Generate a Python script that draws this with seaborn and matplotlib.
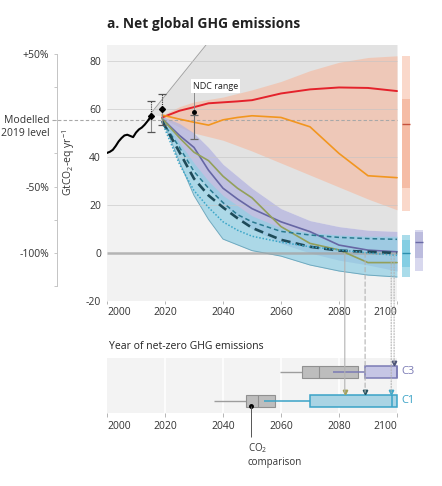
import matplotlib.pyplot as plt
import matplotlib.transforms as mtransforms
from matplotlib.patches import ConnectionPatch
import seaborn as sns

sns.set_theme(style="white")
plt.rcParams["font.family"] = ["Open Sans", "DejaVu Sans"]
plt.rcParams["mathtext.fontset"] = "custom"
plt.rcParams["mathtext.rm"] = "Open Sans"
plt.rcParams["mathtext.it"] = "Open Sans:italic"
plt.rcParams["mathtext.bf"] = "Open Sans:bold"
plt.rcParams["axes.unicode_minus"] = False

# historical net GHG emissions (GtCO2-eq/yr)
hist_years = list(range(2000, 2016))
hist_ghg = [41.7, 42.2, 43.0, 44.6, 46.5, 47.9, 49.0, 49.3, 48.8, 48.3,
            50.2, 51.5, 52.3, 53.5, 55.0, 56.7]

modelled_2019 = 55.4

# points with ranges
obs_years = [2015, 2019]
obs_mid = [57.1, 59.9]
obs_hi = [63.3, 66.1]
obs_lo = [50.4, 53.3]

ndc_year = 2030
ndc_mid = 58.6
ndc_hi = 57.5
ndc_lo = 47.4

# illustrative pathways
path_years = [2019, 2025, 2030, 2035, 2040, 2045, 2050, 2060, 2070, 2080, 2090, 2100]
policies = [56.5, 59.3, 60.8, 62.4, 62.8, 63.2, 63.7, 66.5, 68.2, 69.0, 68.8, 67.5]
mod_action = [57.5, 55.8, 54.5, 53.3, 55.5, 56.5, 57.2, 56.5, 52.6, 41.5, 32.2, 31.4]
c3_median = [56, 49, 44, 34.5, 27, 22.5, 18.5, 13, 8.9, 3.3, 1.2, 0.5]
gradual = [56, 48, 42, 38.5, 32, 27, 23, 11, 4, 1.3, -4, -4]
neg = [55, 42, 31, 24, 19, 14.5, 10.5, 5.5, 2.6, 1, 0.5, 0]
low_demand = [55, 44, 34, 27, 21, 16, 13, 9, 7.5, 6.5, 6, 5.7]
renew = [54.5, 37, 26, 19, 13, 9.5, 7, 4.5, 2.6, 1.3, 0, -1]

# ranges
band_years = [2019, 2020, 2025, 2030, 2035, 2040, 2050, 2060, 2070, 2080, 2090, 2100]
ndc_band_hi = [57.5, 58, 61, 63, 64, 65, 68, 71.5, 76, 79.5, 81.5, 82.2]
ndc_band_lo = [56, 55.5, 52.5, 50, 48.5, 47, 42.5, 37.5, 32.5, 27.5, 22.5, 18]
c3_hi = [57, 56.5, 54, 50, 44, 37, 27, 18.5, 13.5, 11, 9.5, 9]
c3_lo = [55, 54, 44, 35, 27, 20, 10, 4, 0, -3, -5, -7.5]
c1_hi = [56.5, 56, 46, 37.5, 30, 24, 15.5, 10.5, 8.5, 7.5, 7, 7]
c1_lo = [55, 53, 38, 24, 14, 5.8, 1, -1.3, -5, -7.5, -9.2, -10]

grey_years = [2015] + band_years
grey_hi = [58, 64, 65.5, 73, 80.5, 88, 95.5, 110, 125, 140, 155, 170, 185]
grey_lo = [58] + c3_hi

# 2100 range bars: ndc, c1, c3
bar_x = [2103.2, 2103.2, 2107.6]
bar_lo = [17.6, -10, -7.5]
bar_hi = [82.2, 7.5, 9.5]
bar_in_lo = [27, -6, -2.2]
bar_in_hi = [64.4, 5.4, 8.9]
bar_med = [53.6, 0, 4.7]
bar_out_col = ["#fad8ca", "#aadcea", "#d8d8ee"]
bar_in_col = ["#f5bca5", "#84cee3", "#bcbcde"]
bar_med_col = ["#c5513c", "#2b8fae", "#6a6aa6"]

# net-zero years (lower panel): rows 0 = C1, 1 = C3
rows = [0, 1]
row_names = ["C1", "C3"]
row_cols = ["#3ba3c7", "#7b7bb5"]
row_fill = ["#aad4e4", "#c6c6e5"]
co2_wlo = [2036.8, 2059.7]
co2_q1 = [2047.8, 2067.3]
co2_med = [2052.2, 2073.1]
co2_q3 = [2058.0, 2086.4]
ghg_wlo = [2054.1, 2078.0]
ghg_q1 = [2070.0, 2088.8]
ghg_med = [2098.2, 2100.0]
ghg_q3 = [2100.0, 2100.0]
co2_comparison = 2049.7

nz_years = [2082, 2089, 2098, 2099]
nz_rows = [0, 0, 0, 1]
nz_styles = ["-", (0, (4, 2.5)), (0, (1, 1.5)), (0, (1, 1.5))]
nz_cols = ["#a4a35a", "#24525f", "#3fa8c9", "#4d5577"]

fig = plt.figure(figsize=(4.42, 4.86), dpi=100)
ax = fig.add_axes([0.2421, 0.3807, 0.7217, 0.5267])
ax2 = fig.add_axes([0.2421, 0.1502, 0.7217, 0.1132])

# ---- main panel ----
ax.set_facecolor("none")
ax.axvspan(2000, 2100, color="#f2f2f2", zorder=0, lw=0)
ax.fill_between(grey_years, grey_lo, grey_hi, color="#e2e2e2", lw=0, zorder=1.1)
ax.plot(grey_years, grey_hi, color="#a3a3a3", lw=0.7, zorder=1.2)
ax.fill_between(band_years, ndc_band_lo, ndc_band_hi, color="#f5bba2", alpha=0.65, lw=0, zorder=1.3)
ax.fill_between(band_years, c3_lo, c3_hi, color="#b4b4dc", alpha=0.8, lw=0, zorder=1.4)
ax.fill_between(band_years, c1_lo, c1_hi, color="#92cfe3", alpha=0.72, lw=0, zorder=1.5)
ax.plot(band_years, c1_lo, color="#6fa9bf", lw=0.7, zorder=1.6)

ax.hlines([20, 40, 60, 80], 2000, 2100, color="#c4c4c4", lw=0.6, alpha=0.7, zorder=2)
ax.hlines(0, 2000, 2100, color="#a5a5a5", lw=1.8, alpha=0.8, zorder=2)
ax.axhline(modelled_2019, xmin=-0.172, xmax=100 / 110, color="#a8a8a8", lw=0.8,
           ls=(0, (3, 2)), clip_on=False, zorder=2.5)

sns.lineplot(x=hist_years, y=hist_ghg, ax=ax, color="black", lw=1.5, zorder=4)
sns.lineplot(x=path_years, y=policies, ax=ax, color="#e4222b", lw=1.4, zorder=4)
sns.lineplot(x=path_years, y=mod_action, ax=ax, color="#f2961f", lw=1.2, zorder=4)
sns.lineplot(x=path_years, y=c3_median, ax=ax, color="#6666a4", lw=1.2, zorder=4)
sns.lineplot(x=path_years, y=gradual, ax=ax, color="#93a05a", lw=1.2, zorder=4)
sns.lineplot(x=path_years, y=low_demand, ax=ax, color="#2a7a90", lw=1.1,
             linestyle=(0, (3, 2)), zorder=4)
sns.lineplot(x=path_years, y=neg, ax=ax, color="#1e4a58", lw=1.9,
             linestyle=(0, (3.5, 2)), zorder=4)
sns.lineplot(x=path_years, y=renew, ax=ax, color="#3aa6c8", lw=1.1,
             linestyle=(0, (1, 1.2)), zorder=4)

for x, m, hi, lo in zip(obs_years, obs_mid, obs_hi, obs_lo):
    ax.vlines(x, m, hi, colors="#333333", lw=0.8, linestyles=(0, (1, 1)), zorder=5)
    ax.vlines(x, lo, m, colors="#8a8a8a", lw=0.8, zorder=5)
    ax.plot([x, x], [lo, hi], ls="none", marker="_", ms=6, mew=0.9, color="#555555", zorder=5)
    ax.plot(x, m, marker="D", ms=3, color="black", zorder=6)

ax.vlines(ndc_year, ndc_mid, 67, colors="#8a8a8a", lw=0.7, zorder=5)
ax.vlines(ndc_year, ndc_lo, ndc_hi, colors="#6a6a6a", lw=0.8, zorder=5)
ax.plot([ndc_year, ndc_year], [ndc_lo, ndc_hi], ls="none", marker="_", ms=6, mew=0.9,
        color="#6a6a6a", zorder=5)
ax.plot(ndc_year, ndc_mid, marker="o", ms=2.5, color="black", zorder=6)
ax.text(2029.6, 69.6, "NDC range", fontsize=6.5, ha="left", va="center", color="#222222",
        bbox=dict(facecolor="white", edgecolor="none", pad=1.5), zorder=6)

for i in range(3):
    ax.bar(bar_x[i], bar_hi[i] - bar_lo[i], bottom=bar_lo[i], width=2.65,
           color=bar_out_col[i], lw=0, clip_on=False, zorder=3)
    ax.bar(bar_x[i], bar_in_hi[i] - bar_in_lo[i], bottom=bar_in_lo[i], width=2.65,
           color=bar_in_col[i], lw=0, clip_on=False, zorder=3.1)
    ax.hlines(bar_med[i], bar_x[i] - 1.32, bar_x[i] + 1.32, color=bar_med_col[i], lw=1,
              zorder=3.2)

ax.set_xlim(2000, 2110)
ax.set_ylim(-20, 86.7)
ax.set_xticks(range(2000, 2101, 20), [str(y) for y in range(2000, 2101, 20)])
ax.set_yticks([-20, 0, 20, 40, 60, 80], ["-20", "0", "20", "40", "60", "80"])
ax.tick_params(axis="y", length=0, pad=4.3, labelsize=7.5, labelcolor="#333333")
ax.tick_params(axis="x", length=2, width=0.6, color="#aaaaaa", pad=2, labelsize=7.5,
               labelcolor="#333333", bottom=True)
xl = ax.get_xticklabels()
xl[0].set_ha("left")
xl[-1].set_ha("right")
for s in ax.spines.values():
    s.set_visible(False)
ax.set_xlabel("")
ax.set_ylabel("GtCO$_2$-eq yr$^{-1}$", fontsize=7.5, color="#333333")
ax.yaxis.set_label_coords(-0.094, 0.54)

# percentage axis relative to modelled 2019 level
pct = ax.secondary_yaxis(-0.1567, functions=(lambda v: (v / modelled_2019 - 1) * 100,
                                              lambda p: modelled_2019 * (1 + p / 100)))
pct.set_yticks([50, 25, 0, -25, -50, -75, -100, -125],
               ["+50%", "", "", "", "-50%", "", "-100%", ""])
pct.tick_params(length=2.5, width=0.6, color="#bdbdbd", pad=3, labelsize=7.5,
                labelcolor="#333333")
pct.spines["left"].set_bounds(-125, 50)
pct.spines["left"].set_color("#c4c4c4")
pct.spines["left"].set_linewidth(0.7)
blend = mtransforms.blended_transform_factory(ax.transAxes, ax.transData)
ax.text(-0.179, modelled_2019, "Modelled", transform=blend, ha="right", va="center",
        fontsize=7.5, color="#333333")
ax.text(-0.179, modelled_2019 - 5.5, "2019 level", transform=blend, ha="right",
        va="center", fontsize=7.5, color="#333333")

fig.text(0.242, 0.951, "a. Net global GHG emissions", fontsize=9.9, weight="bold",
         ha="left", va="center", color="#222222")

# ---- lower panel: year of net-zero ----
ax2.set_facecolor("none")
ax2.axvspan(2000, 2100, color="#f3f3f3", zorder=0, lw=0)
ax2.vlines(range(2020, 2100, 20), -0.414, 1.483, color="white", lw=1.1, zorder=1)

ax2.hlines(rows, co2_wlo, co2_q1, color="#9d9d9d", lw=1, zorder=2)
ax2.barh(rows, [b - a for a, b in zip(co2_q1, co2_q3)], left=co2_q1, height=0.4,
         color="#bdbdbd", edgecolor="#909090", lw=0.8, zorder=3)
ax2.vlines(co2_med, [r - 0.2 for r in rows], [r + 0.2 for r in rows], color="#909090",
           lw=0.8, zorder=4)
ax2.barh(rows, [b - a for a, b in zip(ghg_q1, ghg_q3)], left=ghg_q1, height=0.42,
         color=row_fill, edgecolor=row_cols, lw=1.1, zorder=3)
for r in rows:
    ax2.hlines(r, ghg_wlo[r], ghg_q1[r], color=row_cols[r], lw=1.1, zorder=5)
    ax2.vlines(ghg_med[r], r - 0.21, r + 0.21, color=row_cols[r], lw=1.1, zorder=5)
    ax2.text(2101.6, r, row_names[r], color=row_cols[r], fontsize=8, ha="left", va="center")

ax2.plot(co2_comparison, -0.17, marker="o", ms=2.5, color="black", zorder=6)
ax2.vlines(co2_comparison, -1.24, -0.17, color="#555555", lw=0.7, clip_on=False, zorder=6)
ax2.text(2048.6, -1.38, "CO$_2$\ncomparison", fontsize=7, ha="left", va="top",
         color="#333333", linespacing=1.3)

for yr, r, ls, c in zip(nz_years, nz_rows, nz_styles, nz_cols):
    ax2.plot(yr, r + 0.3, marker="v", ms=3.2, color=c, zorder=6)
    con = ConnectionPatch(xyA=(yr, 0), coordsA=ax.transData, xyB=(yr, r + 0.3),
                          coordsB=ax2.transData, color="#b3b3b3", lw=0.8, linestyle=ls,
                          zorder=1)
    fig.add_artist(con)

ax2.text(0.006, 1.2, "Year of net-zero GHG emissions", transform=ax2.transAxes,
         fontsize=7.5, ha="left", va="center", color="#222222")
ax2.set_xlim(2000, 2110)
ax2.set_ylim(-0.414, 1.483)
ax2.set_yticks([])
ax2.set_xticks(range(2000, 2101, 20), [str(y) for y in range(2000, 2101, 20)])
ax2.tick_params(axis="x", length=3, width=0.6, color="#aaaaaa", pad=3, labelsize=7.5,
                labelcolor="#333333", bottom=True)
xl2 = ax2.get_xticklabels()
xl2[0].set_ha("left")
xl2[-1].set_ha("right")
for s in ax2.spines.values():
    s.set_visible(False)

fig.savefig("out.png", dpi=100, facecolor="white")
